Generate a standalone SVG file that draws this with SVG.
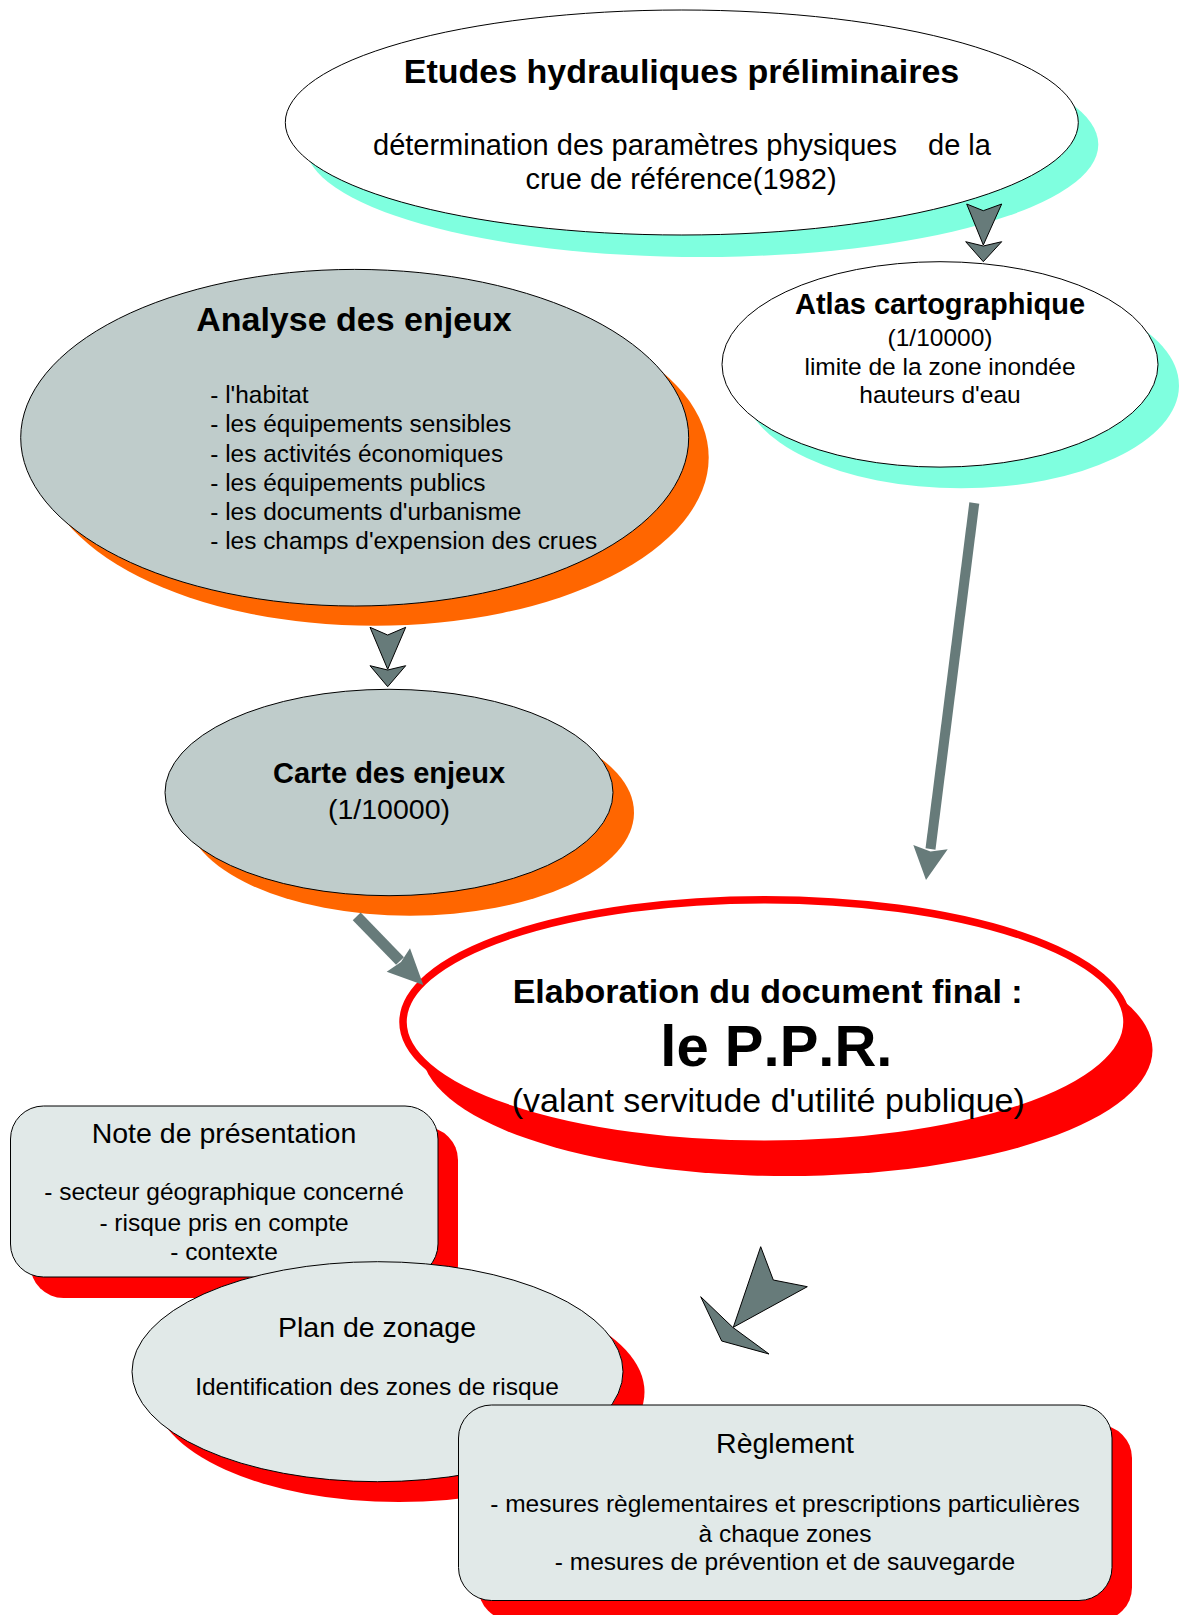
<svg xmlns="http://www.w3.org/2000/svg" width="1180" height="1615" viewBox="0 0 1180 1615">
<style>
text{font-family:"Liberation Sans",Arial,sans-serif;fill:#000;font-kerning:none}
.b{font-weight:bold}
.m{text-anchor:middle}
.node{stroke:#000;stroke-width:1}
.cyan{fill:#7fffdf}
.orange{fill:#ff6600}
.red{fill:#ff0000}
.grey{fill:#bfcccb}
.light{fill:#e1e9e8}
.white{fill:#fff}
.chev{fill:#677b7a;stroke:#000;stroke-width:1;stroke-linejoin:miter}
.arr{fill:#677b7a;stroke:none}
.shaft{stroke:#677b7a;fill:none}
</style>
<rect width="1180" height="1615" fill="#fff"/>

<g id="etudes">
<ellipse class="cyan" cx="701.8" cy="144.5" rx="396.5" ry="112.5"/>
<ellipse class="white node" cx="681.8" cy="122.5" rx="396.5" ry="112.5"/>
<text class="b m" x="681.5" y="83" font-size="34">Etudes hydrauliques préliminaires</text>
<text x="373" y="155" font-size="29">détermination des paramètres physiques</text>
<text x="928" y="155" font-size="29">de la</text>
<text class="m" x="681" y="188.5" font-size="29">crue de référence(1982)</text>
</g>

<g id="atlas">
<ellipse class="cyan" cx="961" cy="385.5" rx="218" ry="102.7"/>
<ellipse class="white node" cx="940" cy="364.4" rx="218" ry="102.7"/>
<text class="b m" x="940" y="314" font-size="29">Atlas cartographique</text>
<text class="m" x="940" y="346" font-size="24.5">(1/10000)</text>
<text class="m" x="940" y="374.5" font-size="24.5">limite de la zone inondée</text>
<text class="m" x="940" y="403" font-size="24.5">hauteurs d'eau</text>
</g>

<g id="analyse">
<ellipse class="orange" cx="374.7" cy="457.5" rx="334" ry="168.3"/>
<ellipse class="grey node" cx="354.7" cy="437.7" rx="334" ry="168.3"/>
<text class="b m" x="354" y="331" font-size="34">Analyse des enjeux</text>
<text x="210.3" y="403" font-size="24.4">- l'habitat</text>
<text x="210.3" y="432.3" font-size="24.4">- les équipements sensibles</text>
<text x="210.3" y="461.5" font-size="24.4">- les activités économiques</text>
<text x="210.3" y="490.8" font-size="24.4">- les équipements publics</text>
<text x="210.3" y="520" font-size="24.4">- les documents d'urbanisme</text>
<text x="210.3" y="549.3" font-size="24.4">- les champs d'expension des crues</text>
</g>

<g id="carte">
<ellipse class="orange" cx="410" cy="812.5" rx="224" ry="103.2"/>
<ellipse class="grey node" cx="389" cy="792.5" rx="224" ry="103.2"/>
<text class="b m" x="389" y="783.3" font-size="29">Carte des enjeux</text>
<text class="m" x="389" y="819" font-size="28.5">(1/10000)</text>
</g>

<g id="ppr">
<ellipse class="red" cx="787" cy="1050" rx="365.5" ry="126"/>
<ellipse fill="#fff" stroke="#ff0000" stroke-width="7.5" cx="765" cy="1022" rx="362" ry="122.3"/>
<text class="b m" x="767.7" y="1003.3" font-size="34">Elaboration du document final :</text>
<text class="b m" x="776.4" y="1066" font-size="58">le P.P.R.</text>
<text class="m" x="768.3" y="1112" font-size="34">(valant servitude d'utilité publique)</text>
</g>

<g id="note">
<rect class="red" x="30.5" y="1127" width="427.5" height="171" rx="33"/>
<rect class="light node" x="10.5" y="1106" width="427.5" height="171" rx="33"/>
<text class="m" x="224" y="1143.3" font-size="28.5">Note de présentation</text>
<text class="m" x="224" y="1200" font-size="24.5">- secteur géographique concerné</text>
<text class="m" x="224" y="1230.5" font-size="24.5">- risque pris en compte</text>
<text class="m" x="224" y="1260" font-size="24.5">- contexte</text>
</g>

<g id="plan">
<ellipse class="red" cx="399" cy="1392" rx="245.5" ry="110"/>
<ellipse class="light node" cx="377.5" cy="1371.7" rx="245.5" ry="110"/>
<text class="m" x="377" y="1336.7" font-size="28.5">Plan de zonage</text>
<text class="m" x="377" y="1395" font-size="24.5">Identification des zones de risque</text>
</g>

<g id="reglement">
<rect class="red" x="478.5" y="1425" width="653.5" height="195.5" rx="33"/>
<rect class="light node" x="458.5" y="1405" width="653.5" height="195.5" rx="33"/>
<text class="m" x="785" y="1452.7" font-size="28.5">Règlement</text>
<text class="m" x="785" y="1511.7" font-size="24.5">- mesures règlementaires et prescriptions particulières</text>
<text class="m" x="785" y="1541.7" font-size="24.5">à chaque zones</text>
<text class="m" x="785" y="1570" font-size="24.5">- mesures de prévention et de sauvegarde</text>
</g>

<g id="connectors">
<g id="etudes-atlas">
<polygon class="chev" points="966.7,204 983.3,210.7 1001.7,204 983.3,245"/>
<polygon class="chev" points="965.7,241.7 983.3,246 1001.7,241.7 983.3,261.7"/>
</g>
<g id="analyse-carte">
<polygon class="chev" points="370,627.3 387.7,635 405.7,627.3 387.7,669.3"/>
<polygon class="chev" points="370,665.7 387.7,670 405.7,665.7 387.7,686.7"/>
</g>
<g id="atlas-ppr">
<line class="shaft" stroke-width="10" x1="974.3" y1="503" x2="930.5" y2="849"/>
<polygon class="arr" points="913.3,845 930.5,851.5 947.7,849.3 926,880"/>
</g>
<g id="carte-ppr">
<line class="shaft" stroke-width="11" x1="356.7" y1="916.3" x2="400" y2="961"/>
<polygon class="arr" points="410,948.3 423.3,985 386.7,971.7 401,962"/>
</g>
<g id="ppr-docs">
<polygon class="chev" points="760.7,1246.7 773.3,1280 807.3,1286.7 733.3,1327.3"/>
<polygon class="chev" points="700.7,1296.7 732.7,1327.3 769,1354 721.7,1341"/>
</g>
</g>
</svg>
